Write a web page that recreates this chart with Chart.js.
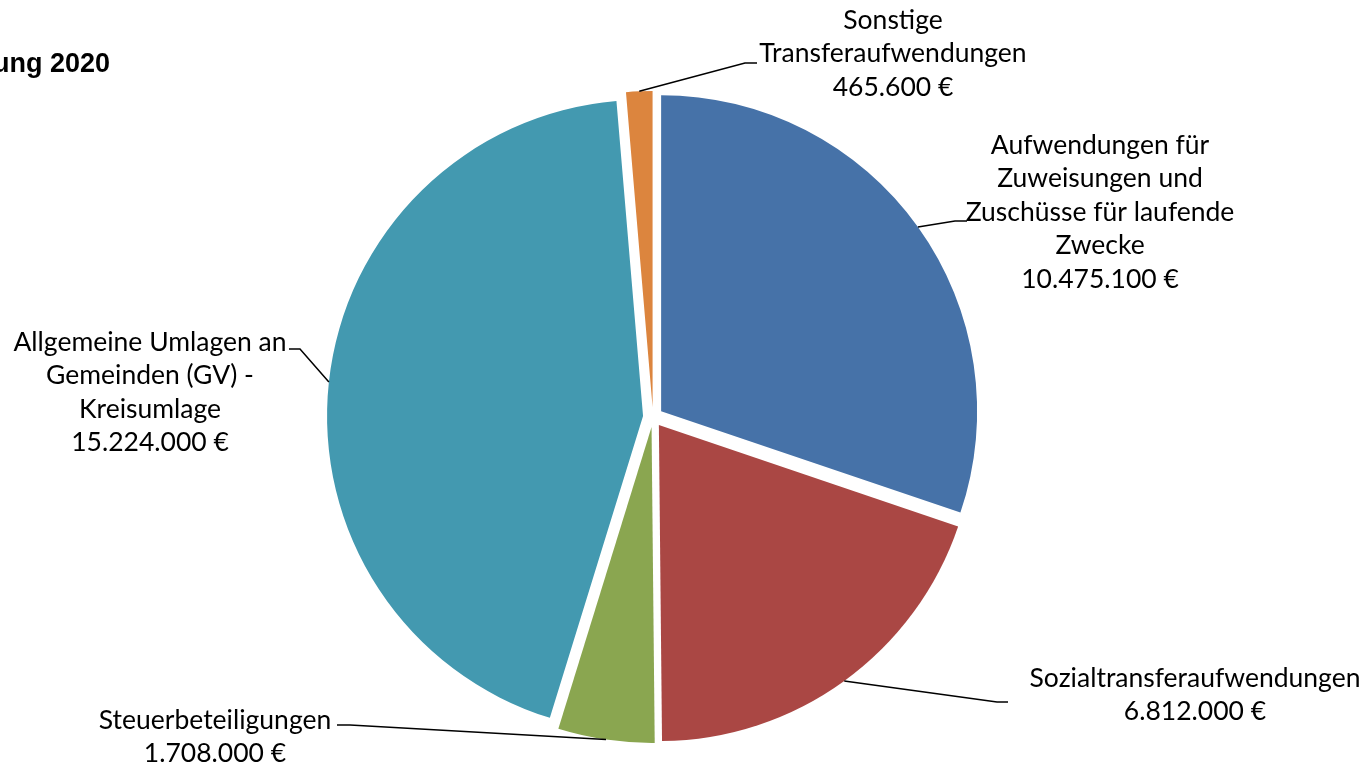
<!DOCTYPE html>
<html>
<head>
<meta charset="utf-8">
<script src="https://cdn.jsdelivr.net/npm/chart.js@4/dist/chart.umd.min.js"></script>
<style>
  html, body { margin: 0; padding: 0; background: #fff; }
  #wrap { position: relative; width: 1365px; height: 763px; overflow: hidden; }
</style>
</head>
<body>
<div id="wrap"><canvas id="pie" width="1365" height="763"></canvas></div>
<script>
// pie of Transferaufwendungen, clockwise from 12 o'clock
var categories = [
  ['Aufwendungen für', 'Zuweisungen und', 'Zuschüsse für laufende', 'Zwecke'],
  ['Sozialtransferaufwendungen'],
  ['Steuerbeteiligungen'],
  ['Allgemeine Umlagen an', 'Gemeinden (GV) -', 'Kreisumlage'],
  ['Sonstige', 'Transferaufwendungen']
];
var amounts = [10475100, 6812000, 1708000, 15224000, 465600];
var colors = ['#4672a8', '#aa4744', '#8aa650', '#4399b0', '#dc853e'];
var titleText = 'ung 2020';

// label placement (text centre, first line y, leader bend + end)
var labelPos = [
  { x: 1100, y: 145, bend: [955, 221], end: [967, 221] },
  { x: 1195, y: 678, bend: [997, 702], end: [1008, 702] },
  { x: 215,  y: 720, bend: [350, 725], end: [337, 725] },
  { x: 150,  y: 342, bend: [300, 349], end: [289, 349] },
  { x: 893,  y: 20,  bend: [745, 63],  end: [757, 63] }
];
var EXPLODE = 10;
var LINE_H = 33.5;

function euro(v) {
  var s = String(v).replace(/\B(?=(\d{3})+(?!\d))/g, '.');
  return s + ' €';
}

// draw every arc pushed out along its mid angle
var explodePlugin = {
  id: 'explode',
  beforeDatasetDraw: function(chart, args) {
    var ctx = chart.ctx;
    args.meta.data.forEach(function(arc) {
      var mid = (arc.startAngle + arc.endAngle) / 2;
      ctx.save();
      ctx.translate(Math.cos(mid) * EXPLODE, Math.sin(mid) * EXPLODE);
      arc.draw(ctx);
      ctx.restore();
    });
    return false;
  }
};

var labelPlugin = {
  id: 'pieLabels',
  afterDatasetsDraw: function(chart) {
    var ctx = chart.ctx;
    var arcs = chart.getDatasetMeta(0).data;
    ctx.save();
    // leader lines
    ctx.strokeStyle = '#000';
    ctx.lineWidth = 1.5;
    arcs.forEach(function(arc, i) {
      var mid = (arc.startAngle + arc.endAngle) / 2;
      var rr = arc.outerRadius + EXPLODE;
      var p = labelPos[i];
      ctx.beginPath();
      ctx.moveTo(arc.x + Math.cos(mid) * rr, arc.y + Math.sin(mid) * rr);
      ctx.lineTo(p.bend[0], p.bend[1]);
      ctx.lineTo(p.end[0], p.end[1]);
      ctx.stroke();
    });
    // texts
    ctx.fillStyle = '#000';
    ctx.font = '26.5px Lato';
    ctx.textAlign = 'center';
    ctx.textBaseline = 'middle';
    categories.forEach(function(lines, i) {
      var p = labelPos[i];
      var all = lines.concat([euro(amounts[i])]);
      all.forEach(function(t, k) {
        ctx.fillText(t, p.x, p.y + k * LINE_H);
      });
    });
    // cut-off title at top left
    ctx.font = 'bold 27px "Liberation Sans"';
    ctx.textAlign = 'right';
    ctx.fillText(titleText, 110, 65);
    ctx.restore();
  }
};

new Chart(document.getElementById('pie').getContext('2d'), {
  type: 'pie',
  data: {
    labels: categories.map(function(c) { return c.join(' '); }),
    datasets: [{
      data: amounts,
      backgroundColor: colors,
      borderWidth: 0,
      radius: 316
    }]
  },
  options: {
    responsive: false,
    animation: false,
    layout: { padding: { left: 0, right: 59, top: 71, bottom: 0 } },
    plugins: {
      legend: { display: false },
      tooltip: { enabled: false }
    }
  },
  plugins: [explodePlugin, labelPlugin]
});
</script>
</body>
</html>
